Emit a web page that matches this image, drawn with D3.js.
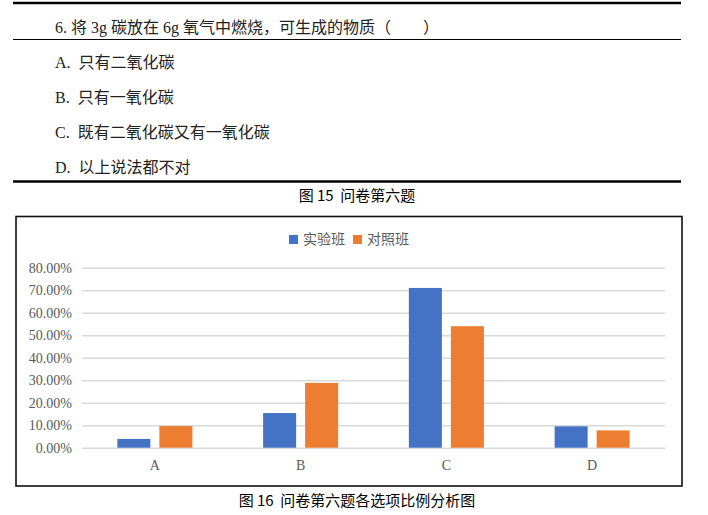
<!DOCTYPE html>
<html>
<head>
<meta charset="utf-8">
<script src="https://cdn.jsdelivr.net/npm/d3@7"></script>
<style>
  body { margin: 0; background: #fff; }
  svg { display: block; }
  text { white-space: pre; }
</style>
</head>
<body>
<div id="chart"></div>
<script>
// question block (figure 15)
const question = '6. 将 3g 碳放在 6g 氧气中燃烧，可生成的物质（　　）'
const options = ['A.  只有二氧化碳', 'B.  只有一氧化碳', 'C.  既有二氧化碳又有一氧化碳', 'D.  以上说法都不对']
const caption15 = '图 15  问卷第六题'
const caption16 = '图 16  问卷第六题各选项比例分析图'

// chart data (figure 16), percent
const categories = ['A', 'B', 'C', 'D']
const seriesNames = ['实验班', '对照班']
const shiyanban = [3.9, 15.4, 71.0, 9.5]
const duizhaoban = [9.6, 28.8, 54.0, 7.7]
const yTicks = [0, 10, 20, 30, 40, 50, 60, 70, 80]

const colors = ['#4472C4', '#ED7D31']
const serif = '"Liberation Serif", "Times New Roman", "Noto Sans CJK SC", serif'
const sans = '"Noto Sans CJK SC", sans-serif'

const svg = d3.select('#chart')
  .append('svg')
  .attr('width', 708)
  .attr('height', 515)

//table rules
const rule = (yy, w) => svg.append('line')
  .attr('x1', 13).attr('x2', 681)
  .attr('y1', yy).attr('y2', yy)
  .attr('stroke', '#000').attr('stroke-width', w)
rule(3, 2.5)
rule(39.5, 1.2)
rule(181.5, 2.5)

svg.append('text')
  .attr('x', 55).attr('y', 27)
  .attr('dy', '0.35em')
  .style('font-family', serif)
  .style('font-size', '16px')
  .attr('fill', '#222')
  .text(question)

const optY = d3.scalePoint().domain(options).range([62, 167])
svg.selectAll('.opt')
  .data(options)
  .enter()
  .append('text')
  .attr('class', 'opt')
  .attr('x', 55)
  .attr('y', d => optY(d))
  .attr('dy', '0.35em')
  .style('font-family', serif)
  .style('font-size', '16px')
  .attr('fill', '#222')
  .text(d => d)

svg.append('text')
  .attr('x', 357).attr('y', 196)
  .attr('dy', '0.35em')
  .attr('text-anchor', 'middle')
  .style('font-family', sans)
  .style('font-size', '15px')
  .attr('fill', '#000')
  .text(caption15)

//chart frame
svg.append('rect')
  .attr('x', 16).attr('y', 216.5)
  .attr('width', 666).attr('height', 269.5)
  .attr('fill', '#fff')
  .attr('stroke', '#111')
  .attr('stroke-width', 1.6)

const plotLeft = 82
const plotRight = 665
const plotTop = 267.7
const plotBottom = 447.7

const y = d3.scaleLinear().domain([0, 80]).range([plotBottom, plotTop])
const x0 = d3.scaleBand().domain(categories).range([plotLeft, plotRight])
const x1 = d3.scaleBand()
  .domain(seriesNames)
  .range([0, x0.bandwidth()])
  .paddingInner(0.214)
  .paddingOuter(0.842)

const yAxis = svg.append('g')
  .attr('transform', `translate(${plotLeft},0)`)
  .call(d3.axisLeft(y)
    .tickValues(yTicks)
    .tickSize(-(plotRight - plotLeft))
    .tickPadding(10)
    .tickFormat(d => d3.format('.2f')(d) + '%'))
yAxis.select('.domain').remove()
yAxis.selectAll('line')
  .attr('stroke', '#d9d9d9')
  .attr('stroke-width', 1.5)
yAxis.selectAll('text')
  .style('font-family', serif)
  .style('font-size', '14px')
  .attr('fill', '#595959')

const xAxis = svg.append('g')
  .attr('transform', `translate(0,${plotBottom})`)
  .call(d3.axisBottom(x0).tickSize(0).tickPadding(12))
xAxis.select('.domain').remove()
xAxis.selectAll('text')
  .style('font-family', serif)
  .style('font-size', '14px')
  .attr('fill', '#595959')

const rows = categories.map((c, i) => ({
  cat: c,
  values: [shiyanban[i], duizhaoban[i]]
}))

const groups = svg.append('g')
  .selectAll('g')
  .data(rows)
  .enter()
  .append('g')
  .attr('transform', d => `translate(${x0(d.cat)},0)`)

groups.selectAll('rect')
  .data(d => d.values.map((v, j) => ({name: seriesNames[j], value: v, idx: j})))
  .enter()
  .append('rect')
  .attr('x', d => x1(d.name))
  .attr('y', d => y(d.value))
  .attr('width', x1.bandwidth())
  .attr('height', d => y(0) - y(d.value))
  .attr('fill', d => colors[d.idx])

//legend, centred on the frame
const legend = svg.append('g')
const items = legend.selectAll('g')
  .data(seriesNames)
  .enter()
  .append('g')
let offset = 0
items.each(function(d, i) {
  const g = d3.select(this)
  g.append('rect')
    .attr('x', 0).attr('y', -4.5)
    .attr('width', 9).attr('height', 9)
    .attr('fill', colors[i])
  const t = g.append('text')
    .attr('x', 14)
    .attr('dy', '0.35em')
    .style('font-family', serif)
    .style('font-size', '14px')
    .attr('fill', '#595959')
    .text(d)
  g.attr('transform', `translate(${offset},0)`)
  offset += 14 + t.node().getComputedTextLength() + 8
})
const legendWidth = offset - 8
legend.attr('transform', `translate(${349 - legendWidth / 2},239.5)`)

svg.append('text')
  .attr('x', 357).attr('y', 501)
  .attr('dy', '0.35em')
  .attr('text-anchor', 'middle')
  .style('font-family', sans)
  .style('font-size', '15px')
  .attr('fill', '#000')
  .text(caption16)
</script>
</body>
</html>
